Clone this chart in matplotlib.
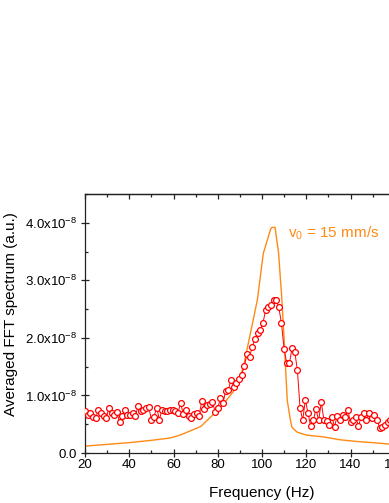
import numpy as np
import matplotlib
matplotlib.use('Agg')
import matplotlib.pyplot as plt
from matplotlib.ticker import MultipleLocator, NullFormatter

plt.rcParams['font.family'] = ['Liberation Sans', 'DejaVu Sans']
plt.rcParams['mathtext.fontset'] = 'custom'
plt.rcParams['mathtext.rm'] = 'Liberation Sans'
plt.rcParams['mathtext.it'] = 'Liberation Sans:italic'
plt.rcParams['mathtext.bf'] = 'Liberation Sans:bold'

# measured averaged FFT spectrum, Hz and units of 1e-9 a.u.
freq = [20.0, 21.2, 22.4, 23.6, 24.8, 26.0, 27.2, 28.4, 29.6, 30.8,
        32.0, 33.2, 34.4, 35.6, 36.8, 38.0, 39.2, 40.4, 41.6, 42.8,
        44.0, 45.2, 46.4, 47.6, 48.8, 50.0, 51.2, 52.4, 53.6, 54.8,
        56.0, 57.2, 58.4, 59.6, 60.8, 62.0, 63.2, 64.4, 65.6, 66.8,
        68.0, 69.2, 70.4, 71.6, 72.8, 74.0, 75.2, 76.4, 77.6, 78.8,
        80.0, 81.2, 82.4, 83.6, 84.8, 86.0, 87.2, 88.4, 89.6, 90.8,
        92.0, 93.2, 94.4, 95.6, 96.8, 98.0, 99.2, 100.4, 101.6, 102.8,
        104.0, 105.2, 106.4, 107.6, 108.8, 110.0, 111.2, 112.4, 113.6, 114.8,
        116.0, 117.2, 118.4, 119.6, 120.8, 122.0, 123.2, 124.4, 125.6, 126.8,
        128.0, 129.2, 130.4, 131.6, 132.8, 134.0, 135.2, 136.4, 137.6, 138.8,
        140.0, 141.2, 142.4, 143.6, 144.8, 146.0, 147.2, 148.4, 149.6, 150.8,
        152.0, 153.2, 154.4, 155.6, 156.8, 158.0, 159.2]
spec = [7.3, 6.6, 6.9, 6.3, 6.0, 7.5, 6.9, 6.5, 6.0, 7.9,
        6.9, 6.6, 7.1, 5.4, 6.5, 7.5, 6.6, 6.6, 6.9, 6.4,
        8.2, 7.3, 7.5, 7.9, 8.0, 5.8, 6.3, 7.9, 5.8, 7.5,
        7.3, 7.3, 7.5, 7.5, 7.3, 6.9, 8.7, 6.8, 7.5, 6.4,
        6.0, 6.8, 6.9, 6.5, 9.1, 7.6, 8.3, 8.6, 8.9, 7.2,
        7.8, 9.5, 8.7, 10.8, 11.0, 12.7, 11.5, 12.1, 12.8, 13.6,
        15.1, 17.2, 16.7, 18.5, 19.8, 20.8, 21.4, 22.5, 24.8, 25.3,
        25.7, 26.6, 26.6, 25.3, 22.5, 18.0, 15.6, 15.6, 18.3, 17.6,
        14.4, 7.8, 5.7, 9.2, 6.9, 4.7, 5.7, 7.6, 5.7, 8.8,
        5.7, 5.6, 4.9, 6.2, 4.6, 6.5, 5.7, 6.6, 6.2, 7.5,
        5.3, 5.7, 6.2, 4.7, 6.2, 6.9, 5.7, 7.0, 6.0, 6.6,
        5.7, 4.4, 4.6, 4.9, 5.4, 5.8, 5.5]

# model curve for v0 = 15 mm/s
model_freq = [20, 30, 40, 50, 58.4, 62.9, 72.3, 81, 85.5, 88.6,
              91.6, 94.6, 97.9, 100.6, 103.9, 104.5, 105.9, 107.5, 109.0, 110.1,
              111.4, 112.7, 113.5, 114.2, 116, 120.2, 127.7, 135.2, 142.8, 150,
              157.4, 165, 180]
model_spec = [1.2, 1.5, 1.8, 2.2, 2.6, 3.1, 4.6, 7.8, 9.9, 11.5,
              15.0, 20.5, 26.6, 34.7, 38.9, 39.2, 39.2, 34.7, 26.6, 19.0,
              9.2, 6.0, 4.5, 4.2, 3.6, 3.1, 2.8, 2.3, 2.0, 1.8,
              1.55, 1.4, 1.2]

yticks = [0.0, 1e-8, 2e-8, 3e-8, 4e-8]
ytick_labels = ['0.0', '1.0x10$^{-8}$', '2.0x10$^{-8}$', '3.0x10$^{-8}$', '4.0x10$^{-8}$']
xticks = [20, 40, 60, 80, 100, 120, 140, 160, 180]

fig = plt.figure(figsize=(3.89, 5.03), dpi=100)
# axes is wider than the figure: the right part is cropped like in the original
ax = fig.add_axes([85/389., 50/503., 354/389., 259/503.])

ax.plot(np.array(freq), np.array(spec)*1e-9, '-o', color='#ff0000', lw=0.7,
        ms=4.2, mew=0.9, mfc='white', mec='#ff0000', zorder=3)
ax.plot(np.array(model_freq), np.array(model_spec)*1e-9, '-', color='#ff8a14',
        lw=1.0, zorder=2)

ax.text(111.8, 3.82e-8, r'v$_{0}$ = 15 mm/s', color='#ff8a14', fontsize=11,
        ha='left', va='center')

ax.set_xlim(20, 180)
ax.set_ylim(0, 4.5e-8)
ax.set_xticks(xticks)
ax.xaxis.set_minor_locator(MultipleLocator(10))
ax.set_yticks(yticks)
ax.set_yticklabels(ytick_labels)
ax.yaxis.set_minor_locator(MultipleLocator(0.5e-8))

for s in ax.spines.values():
    s.set_linewidth(0.9)
    s.set_color('#222222')
ax.tick_params(which='major', direction='inout', length=6, width=0.9,
               color='#222222', labelsize=9.5, top=False, right=False)
ax.tick_params(which='minor', direction='in', length=2.2, width=0.9,
               color='#222222', top=False, right=False)
ax.tick_params(axis='x', which='major', pad=1)
ax.tick_params(axis='y', which='major', pad=3)

sec = ax.secondary_xaxis('top')
sec.set_xticks(xticks)
sec.xaxis.set_minor_locator(MultipleLocator(10))
sec.xaxis.set_major_formatter(NullFormatter())
sec.spines['top'].set_linewidth(0.9)
sec.spines['top'].set_color('#222222')
sec.tick_params(which='major', direction='in', length=3.4, width=0.9, color='#222222')
sec.tick_params(which='minor', direction='in', length=1.8, width=0.9, color='#222222')

fig.text(262/389., 0.012, 'Frequency (Hz)', fontsize=11, ha='center', va='baseline')
fig.text(11/389., 1 - 314/503., 'Averaged FFT spectrum (a.u.)', fontsize=11,
         rotation=90, ha='center', va='center')

fig.savefig('out.png', dpi=100, facecolor='white')
